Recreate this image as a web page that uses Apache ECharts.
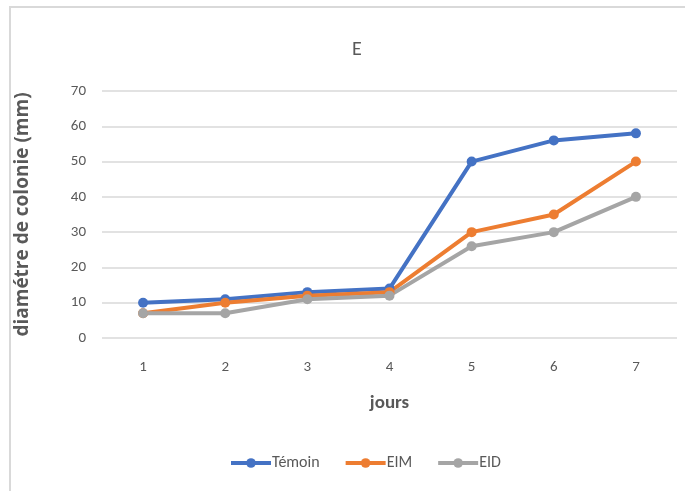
<!DOCTYPE html>
<html>
<head>
<meta charset="utf-8">
<script src="https://cdn.jsdelivr.net/npm/echarts@6/dist/echarts.min.js"></script>
<style>html,body{margin:0;padding:0;background:#fff;}#c{width:685px;height:491px;}</style>
</head>
<body>
<div id="c"></div>
<script>
var categories = ['1', '2', '3', '4', '5', '6', '7'];
var temoin = [10, 11, 13, 14, 50, 56, 58];
var eim = [7, 10, 12, 13, 30, 35, 50];
var eid = [7, 7, 11, 12, 26, 30, 40];
var seriesNames = ['Témoin', 'EIM', 'EID'];
var colors = ['#4472C4', '#ED7D31', '#A5A5A5'];

var chart = echarts.init(document.getElementById('c'));
var font = 'Calibri, "Liberation Sans Narrow", "Open Sans", sans-serif';
function mk(name, data, color) {
  return {
    name: name, type: 'line', data: data,
    symbol: 'circle', symbolSize: 10,
    lineStyle: { width: 4, color: color },
    itemStyle: { color: color },
    animation: false
  };
}
chart.setOption({
  animation: false,
  color: colors,
  graphic: [{
    type: 'rect', shape: { x: 10, y: 7, width: 700, height: 500 },
    style: { fill: 'none', stroke: '#d9d9d9', lineWidth: 2 }, silent: true, z: -1
  }],
  title: {
    text: 'E', left: 352, top: 35, textAlign: 'center',
    textStyle: { fontFamily: font, fontSize: 20, fontWeight: 'normal', color: '#595959' }
  },
  legend: {
    data: seriesNames, bottom: 15, left: 224, itemWidth: 40, itemHeight: 12, itemGap: 24,
    lineStyle: { width: 4 },
    textStyle: { fontFamily: font, fontSize: 16, color: '#595959', padding: [0, 0, 0, -4] }
  },
  grid: { left: 102, right: 8, top: 91, bottom: 153, containLabel: false },
  xAxis: {
    type: 'category', data: categories, boundaryGap: true,
    name: 'jours', nameLocation: 'middle', nameGap: 56,
    nameTextStyle: { fontFamily: font, fontSize: 19, fontWeight: 'bold', color: '#595959' },
    axisLine: { show: false }, axisTick: { show: false },
    axisLabel: { fontFamily: font, fontSize: 15, color: '#595959', margin: 22 }
  },
  yAxis: {
    type: 'value', min: 0, max: 70, interval: 10,
    name: 'diamétre de colonie (mm)', nameLocation: 'middle', nameGap: 70, nameRotate: 90,
    nameTextStyle: { fontFamily: '"Open Sans", sans-serif', fontSize: 19, fontWeight: 'bold', color: '#595959' },
    axisLine: { show: false }, axisTick: { show: false },
    axisLabel: { fontFamily: font, fontSize: 15, color: '#595959', margin: 16 },
    splitLine: { lineStyle: { color: '#d9d9d9', width: 1.5 } }
  },
  series: [mk(seriesNames[0], temoin, colors[0]), mk(seriesNames[1], eim, colors[1]), mk(seriesNames[2], eid, colors[2])]
});
</script>
</body>
</html>
